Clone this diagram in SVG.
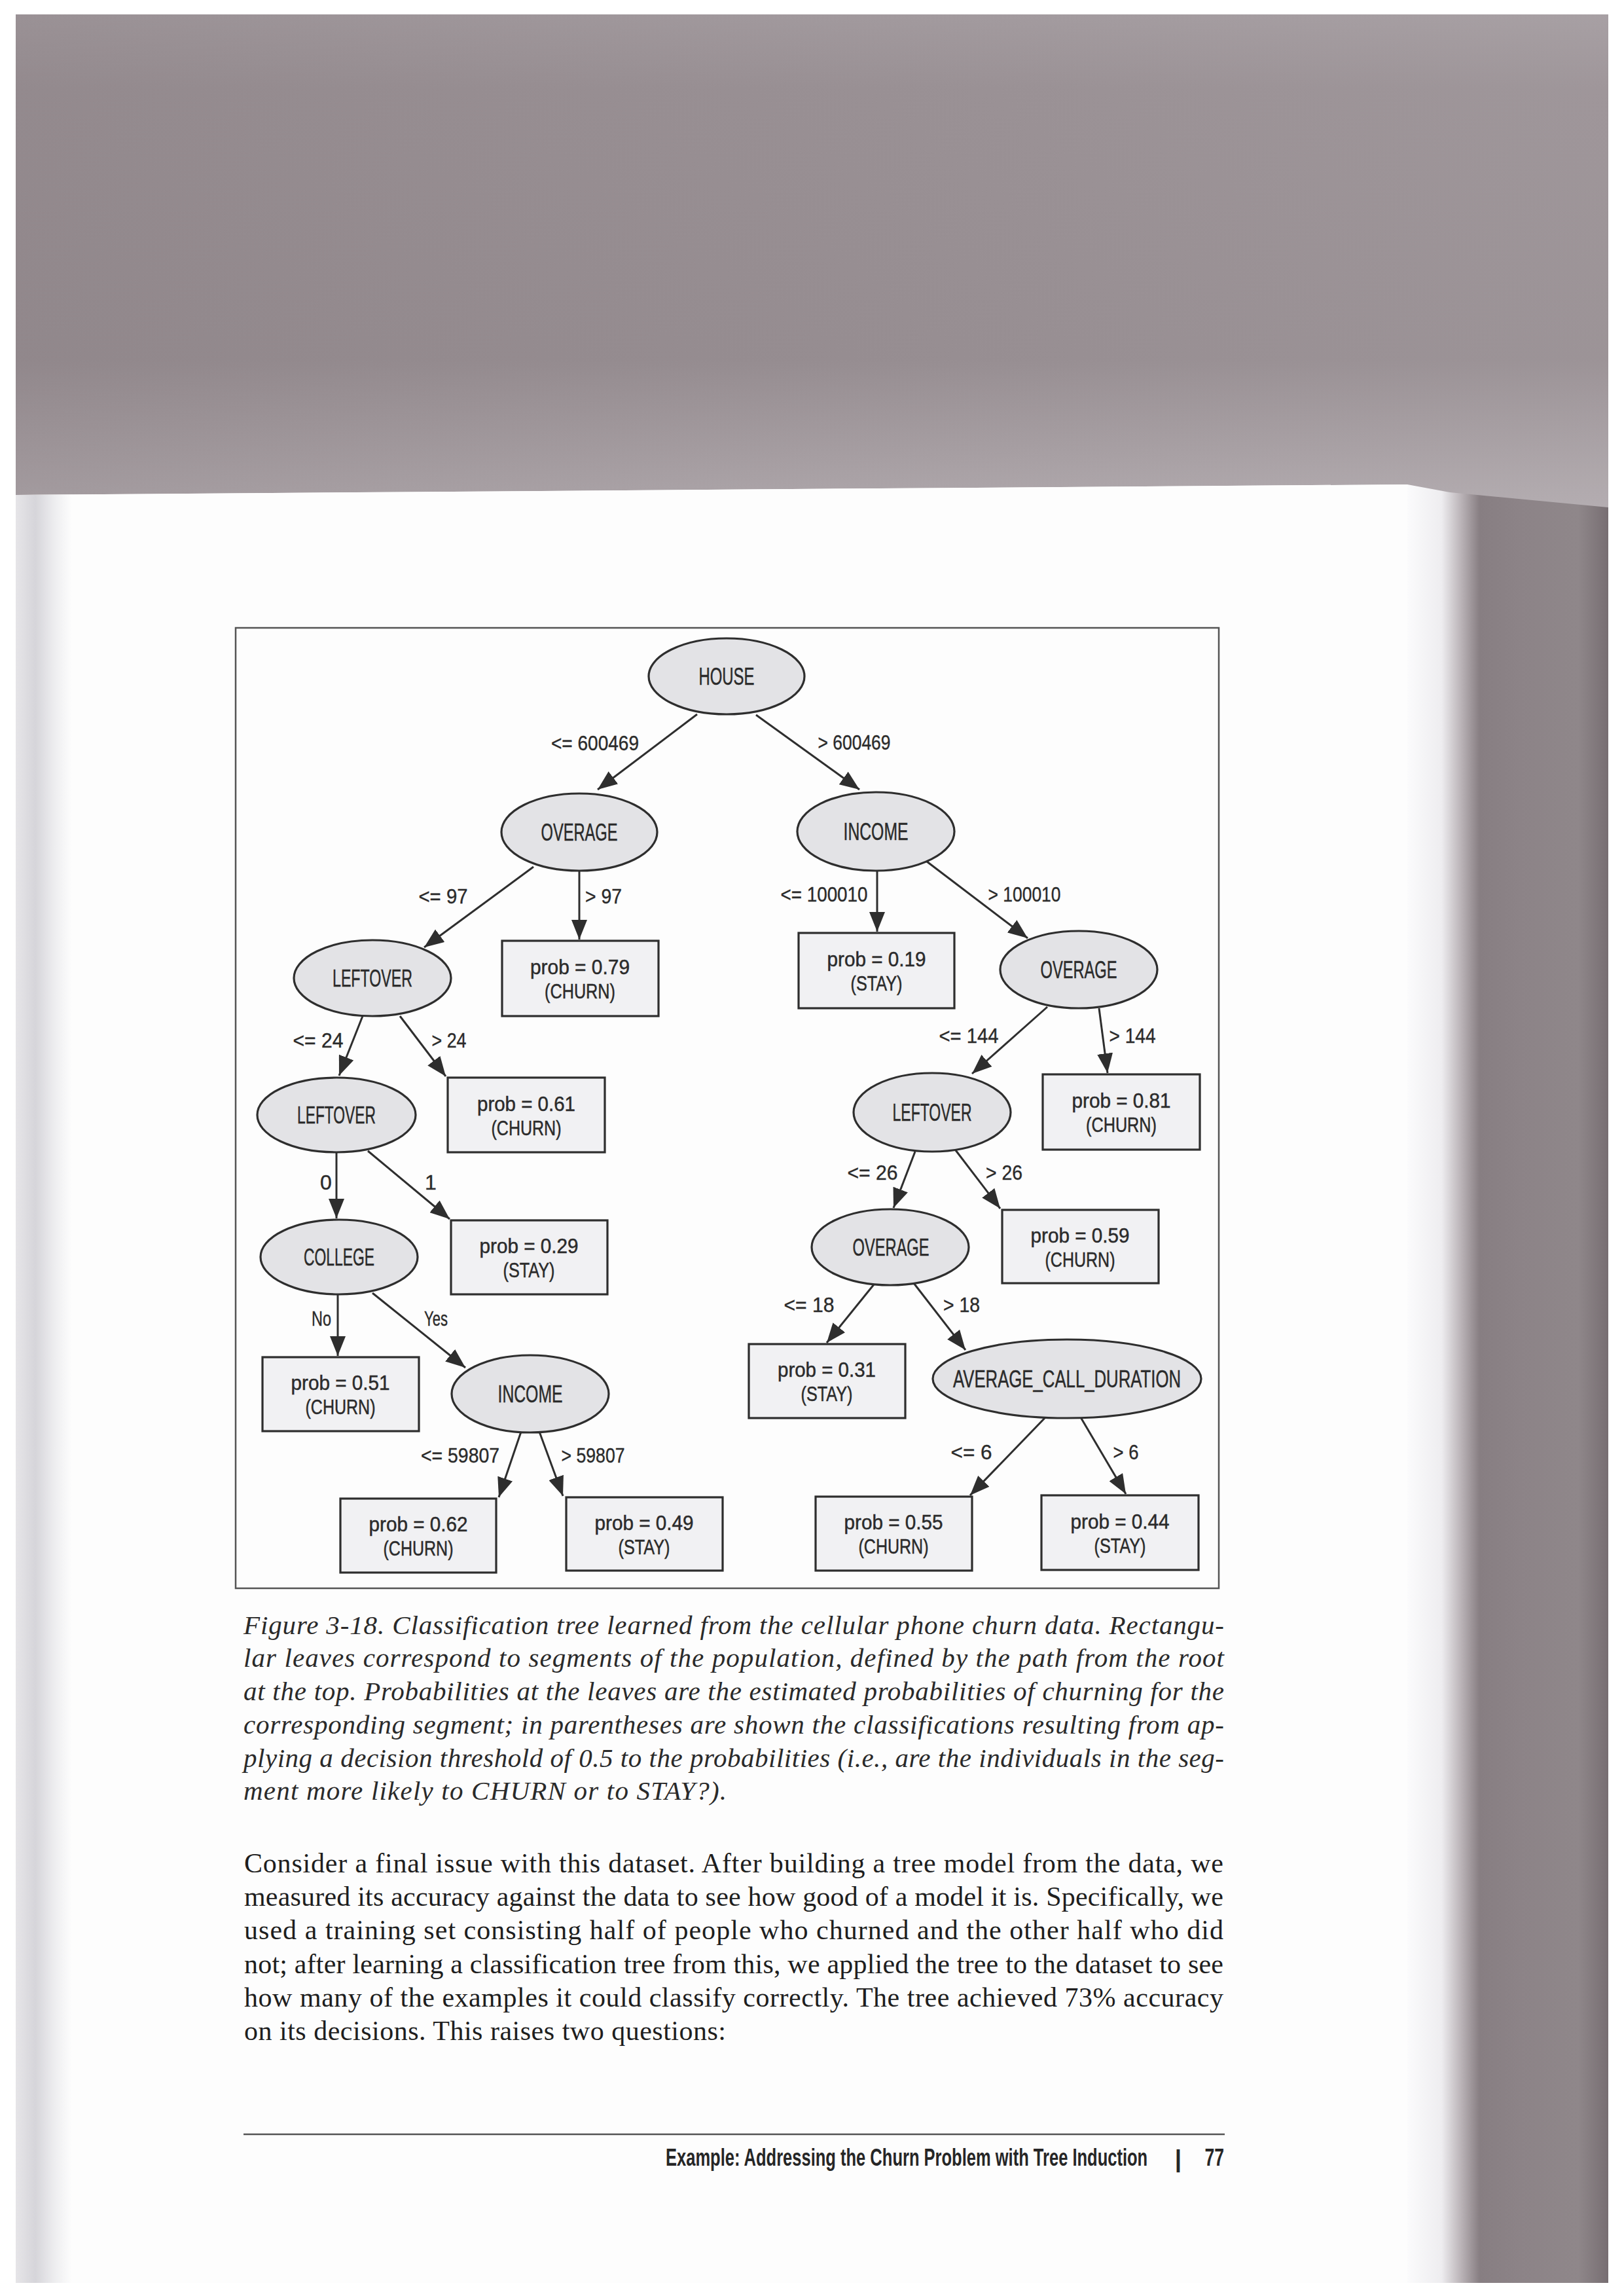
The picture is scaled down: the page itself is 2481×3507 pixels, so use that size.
<svg xmlns="http://www.w3.org/2000/svg" width="2481" height="3507" viewBox="0 0 2481 3507">
<defs>
<linearGradient id="topg" x1="0" y1="0" x2="0" y2="1">
<stop offset="0" stop-color="#a39b9f"/>
<stop offset="0.15" stop-color="#9a9195"/>
<stop offset="0.7" stop-color="#978e92"/>
<stop offset="0.9" stop-color="#a8a0a4"/>
<stop offset="1" stop-color="#b0a9ad"/>
</linearGradient>
<linearGradient id="toph" x1="0" y1="0" x2="1" y2="0">
<stop offset="0" stop-color="#7f7478" stop-opacity="0.25"/>
<stop offset="0.5" stop-color="#7f7478" stop-opacity="0.05"/>
<stop offset="1" stop-color="#ffffff" stop-opacity="0.05"/>
</linearGradient>
<linearGradient id="rightg" x1="2150" y1="0" x2="2457" y2="0" gradientUnits="userSpaceOnUse">
<stop offset="0" stop-color="#fbfbfc"/>
<stop offset="0.17" stop-color="#eeedf0"/>
<stop offset="0.27" stop-color="#b9b2b6"/>
<stop offset="0.36" stop-color="#877e82"/>
<stop offset="0.55" stop-color="#8c8387"/>
<stop offset="0.85" stop-color="#8f878a"/>
<stop offset="1" stop-color="#776e72"/>
</linearGradient>
<linearGradient id="leftg" x1="24" y1="0" x2="110" y2="0" gradientUnits="userSpaceOnUse">
<stop offset="0" stop-color="#e6e5e8"/>
<stop offset="0.35" stop-color="#d6d5da"/>
<stop offset="0.7" stop-color="#eeeef0"/>
<stop offset="1" stop-color="#fdfdfd"/>
</linearGradient>
<marker id="ah" markerWidth="30" markerHeight="24" refX="30" refY="12" orient="auto" markerUnits="userSpaceOnUse">
<path d="M0,0 L30,12 L0,24 z" fill="#2e2e2e"/>
</marker>
<style>
.dec ellipse{fill:#e3e3e6;stroke:#2e2e2e;stroke-width:3.2}
.leaf rect{fill:#f1f1f3;stroke:#2e2e2e;stroke-width:3.2}
.nl{font-family:"Liberation Sans",Arial,sans-serif;font-size:36px;fill:#2b2b2b;stroke:#2b2b2b;stroke-width:0.5;text-anchor:middle}
.ll{font-family:"Liberation Sans",Arial,sans-serif;font-size:32px;fill:#2b2b2b;stroke:#2b2b2b;stroke-width:0.5;text-anchor:middle}
.el{font-family:"Liberation Sans",Arial,sans-serif;font-size:32px;fill:#2b2b2b;stroke:#2b2b2b;stroke-width:0.4;text-anchor:middle}
#edges line{stroke:#2e2e2e;stroke-width:3;marker-end:url(#ah)}
.cap{font-family:"Liberation Serif","Times New Roman",serif;font-style:italic;font-size:41px;fill:#2a2a2a}
.body{font-family:"Liberation Serif","Times New Roman",serif;font-size:42px;fill:#1e1e1e}
.foot{font-family:"Liberation Sans",Arial,sans-serif;font-weight:bold;font-size:37px;fill:#262626}
</style>
</defs>

<!-- scan background -->
<rect x="0" y="0" width="2481" height="3507" fill="#ffffff"/>
<rect x="2150" y="735" width="307" height="2752" fill="url(#rightg)"/>
<polygon points="24,22 2457,22 2457,775 2215,752 2150,740 24,756" fill="url(#topg)"/>
<polygon points="24,22 2457,22 2457,775 2215,752 2150,740 24,756" fill="url(#toph)"/>
<polygon points="24,756 2150,740 2150,3487 24,3487" fill="#fdfdfd"/>
<rect x="24" y="756" width="86" height="2731" fill="url(#leftg)"/>

<!-- figure frame -->
<rect id="frame" x="360" y="959" width="1502" height="1467" fill="none" stroke="#555" stroke-width="2.5"/>

<!-- connectors -->
<g id="edges">
<line x1="1065" y1="1091" x2="913" y2="1206"/>
<line x1="1155" y1="1092" x2="1313" y2="1206"/>
<line x1="815" y1="1324" x2="648" y2="1447"/>
<line x1="885" y1="1331" x2="885" y2="1435"/>
<line x1="1340" y1="1330" x2="1340" y2="1423"/>
<line x1="1416" y1="1316" x2="1570" y2="1433"/>
<line x1="554" y1="1552" x2="518" y2="1643"/>
<line x1="611" y1="1552" x2="681" y2="1644"/>
<line x1="1600" y1="1538" x2="1485" y2="1640"/>
<line x1="1679" y1="1540" x2="1692" y2="1639"/>
<line x1="514" y1="1760" x2="514" y2="1861"/>
<line x1="562" y1="1758" x2="687" y2="1862"/>
<line x1="1398" y1="1759" x2="1365" y2="1845"/>
<line x1="1460" y1="1757" x2="1528" y2="1846"/>
<line x1="516" y1="1977" x2="516" y2="2071"/>
<line x1="569" y1="1975" x2="711" y2="2089"/>
<line x1="1335" y1="1962" x2="1263" y2="2051"/>
<line x1="1396" y1="1960" x2="1475" y2="2062"/>
<line x1="796" y1="2187" x2="762" y2="2287"/>
<line x1="824" y1="2187" x2="860" y2="2285"/>
<line x1="1597" y1="2165" x2="1482" y2="2284"/>
<line x1="1651" y1="2165" x2="1720" y2="2282"/>
</g>

<!-- edge labels -->
<g id="edge-labels">
<text class="el" x="909" y="1146" textLength="134" lengthAdjust="spacingAndGlyphs">&lt;= 600469</text>
<text class="el" x="1305" y="1145" textLength="111" lengthAdjust="spacingAndGlyphs">&gt; 600469</text>
<text class="el" x="677" y="1380" textLength="75" lengthAdjust="spacingAndGlyphs">&lt;= 97</text>
<text class="el" x="922" y="1380" textLength="56" lengthAdjust="spacingAndGlyphs">&gt; 97</text>
<text class="el" x="1259" y="1377" textLength="133" lengthAdjust="spacingAndGlyphs">&lt;= 100010</text>
<text class="el" x="1565" y="1377" textLength="111" lengthAdjust="spacingAndGlyphs">&gt; 100010</text>
<text class="el" x="486" y="1600" textLength="77" lengthAdjust="spacingAndGlyphs">&lt;= 24</text>
<text class="el" x="686" y="1600" textLength="53" lengthAdjust="spacingAndGlyphs">&gt; 24</text>
<text class="el" x="1480" y="1593" textLength="91" lengthAdjust="spacingAndGlyphs">&lt;= 144</text>
<text class="el" x="1730" y="1593" textLength="71" lengthAdjust="spacingAndGlyphs">&gt; 144</text>
<text class="el" x="498" y="1817">0</text>
<text class="el" x="658" y="1817">1</text>
<text class="el" x="1333" y="1802" textLength="77" lengthAdjust="spacingAndGlyphs">&lt;= 26</text>
<text class="el" x="1534" y="1802" textLength="56" lengthAdjust="spacingAndGlyphs">&gt; 26</text>
<text class="el" x="491" y="2025" textLength="30" lengthAdjust="spacingAndGlyphs">No</text>
<text class="el" x="666" y="2025" textLength="36" lengthAdjust="spacingAndGlyphs">Yes</text>
<text class="el" x="1236" y="2004" textLength="77" lengthAdjust="spacingAndGlyphs">&lt;= 18</text>
<text class="el" x="1469" y="2004" textLength="56" lengthAdjust="spacingAndGlyphs">&gt; 18</text>
<text class="el" x="703" y="2234" textLength="120" lengthAdjust="spacingAndGlyphs">&lt;= 59807</text>
<text class="el" x="906" y="2234" textLength="97" lengthAdjust="spacingAndGlyphs">&gt; 59807</text>
<text class="el" x="1484" y="2229" textLength="63" lengthAdjust="spacingAndGlyphs">&lt;= 6</text>
<text class="el" x="1720" y="2229" textLength="39" lengthAdjust="spacingAndGlyphs">&gt; 6</text>
</g>

<!-- decision nodes -->
<g id="n-house" class="dec"><ellipse cx="1110" cy="1033" rx="119" ry="58"/><text class="nl" x="1110" y="1046" textLength="85" lengthAdjust="spacingAndGlyphs">HOUSE</text></g>
<g id="n-overage-1" class="dec"><ellipse cx="885" cy="1271" rx="119" ry="59"/><text class="nl" x="885" y="1284" textLength="117" lengthAdjust="spacingAndGlyphs">OVERAGE</text></g>
<g id="n-income-1" class="dec"><ellipse cx="1338" cy="1270" rx="120" ry="60"/><text class="nl" x="1338" y="1283" textLength="99" lengthAdjust="spacingAndGlyphs">INCOME</text></g>
<g id="n-leftover-1" class="dec"><ellipse cx="569" cy="1494" rx="120" ry="58"/><text class="nl" x="569" y="1507" textLength="122" lengthAdjust="spacingAndGlyphs">LEFTOVER</text></g>
<g id="n-overage-2" class="dec"><ellipse cx="1648" cy="1481" rx="120" ry="59"/><text class="nl" x="1648" y="1494" textLength="117" lengthAdjust="spacingAndGlyphs">OVERAGE</text></g>
<g id="n-leftover-2" class="dec"><ellipse cx="514" cy="1703" rx="121" ry="57"/><text class="nl" x="514" y="1716" textLength="120" lengthAdjust="spacingAndGlyphs">LEFTOVER</text></g>
<g id="n-leftover-3" class="dec"><ellipse cx="1424" cy="1699" rx="120" ry="60"/><text class="nl" x="1424" y="1712" textLength="121" lengthAdjust="spacingAndGlyphs">LEFTOVER</text></g>
<g id="n-college" class="dec"><ellipse cx="518" cy="1920" rx="120" ry="57"/><text class="nl" x="518" y="1933" textLength="108" lengthAdjust="spacingAndGlyphs">COLLEGE</text></g>
<g id="n-overage-3" class="dec"><ellipse cx="1360" cy="1905" rx="120" ry="58"/><text class="nl" x="1361" y="1918" textLength="117" lengthAdjust="spacingAndGlyphs">OVERAGE</text></g>
<g id="n-income-2" class="dec"><ellipse cx="810" cy="2129" rx="120" ry="59"/><text class="nl" x="810" y="2142" textLength="99" lengthAdjust="spacingAndGlyphs">INCOME</text></g>
<g id="n-acd" class="dec"><ellipse cx="1630" cy="2106" rx="205" ry="60"/><text class="nl" x="1630" y="2119" textLength="348" lengthAdjust="spacingAndGlyphs">AVERAGE_CALL_DURATION</text></g>

<!-- leaf nodes -->
<g id="leaf-079" class="leaf"><rect x="767" y="1437" width="239" height="115"/><text class="ll" x="886" y="1488" textLength="152" lengthAdjust="spacingAndGlyphs">prob = 0.79</text><text class="ll" x="886" y="1525" textLength="108" lengthAdjust="spacingAndGlyphs">(CHURN)</text></g>
<g id="leaf-019" class="leaf"><rect x="1220" y="1425" width="238" height="115"/><text class="ll" x="1339" y="1476" textLength="151" lengthAdjust="spacingAndGlyphs">prob = 0.19</text><text class="ll" x="1339" y="1513" textLength="79" lengthAdjust="spacingAndGlyphs">(STAY)</text></g>
<g id="leaf-081" class="leaf"><rect x="1593" y="1641" width="240" height="115"/><text class="ll" x="1713" y="1692" textLength="151" lengthAdjust="spacingAndGlyphs">prob = 0.81</text><text class="ll" x="1713" y="1729" textLength="108" lengthAdjust="spacingAndGlyphs">(CHURN)</text></g>
<g id="leaf-061" class="leaf"><rect x="684" y="1646" width="240" height="114"/><text class="ll" x="804" y="1697" textLength="150" lengthAdjust="spacingAndGlyphs">prob = 0.61</text><text class="ll" x="804" y="1734" textLength="107" lengthAdjust="spacingAndGlyphs">(CHURN)</text></g>
<g id="leaf-029" class="leaf"><rect x="689" y="1864" width="239" height="113"/><text class="ll" x="808" y="1914" textLength="151" lengthAdjust="spacingAndGlyphs">prob = 0.29</text><text class="ll" x="808" y="1951" textLength="79" lengthAdjust="spacingAndGlyphs">(STAY)</text></g>
<g id="leaf-059" class="leaf"><rect x="1531" y="1848" width="239" height="112"/><text class="ll" x="1650" y="1898" textLength="151" lengthAdjust="spacingAndGlyphs">prob = 0.59</text><text class="ll" x="1650" y="1935" textLength="107" lengthAdjust="spacingAndGlyphs">(CHURN)</text></g>
<g id="leaf-051" class="leaf"><rect x="401" y="2073" width="239" height="113"/><text class="ll" x="520" y="2123" textLength="151" lengthAdjust="spacingAndGlyphs">prob = 0.51</text><text class="ll" x="520" y="2160" textLength="107" lengthAdjust="spacingAndGlyphs">(CHURN)</text></g>
<g id="leaf-031" class="leaf"><rect x="1144" y="2053" width="239" height="113"/><text class="ll" x="1263" y="2103" textLength="150" lengthAdjust="spacingAndGlyphs">prob = 0.31</text><text class="ll" x="1263" y="2140" textLength="79" lengthAdjust="spacingAndGlyphs">(STAY)</text></g>
<g id="leaf-062" class="leaf"><rect x="520" y="2289" width="238" height="113"/><text class="ll" x="639" y="2339" textLength="151" lengthAdjust="spacingAndGlyphs">prob = 0.62</text><text class="ll" x="639" y="2376" textLength="107" lengthAdjust="spacingAndGlyphs">(CHURN)</text></g>
<g id="leaf-049" class="leaf"><rect x="865" y="2287" width="239" height="112"/><text class="ll" x="984" y="2337" textLength="151" lengthAdjust="spacingAndGlyphs">prob = 0.49</text><text class="ll" x="984" y="2374" textLength="79" lengthAdjust="spacingAndGlyphs">(STAY)</text></g>
<g id="leaf-055" class="leaf"><rect x="1246" y="2286" width="239" height="113"/><text class="ll" x="1365" y="2336" textLength="151" lengthAdjust="spacingAndGlyphs">prob = 0.55</text><text class="ll" x="1365" y="2373" textLength="107" lengthAdjust="spacingAndGlyphs">(CHURN)</text></g>
<g id="leaf-044" class="leaf"><rect x="1591" y="2284" width="240" height="114"/><text class="ll" x="1711" y="2335" textLength="151" lengthAdjust="spacingAndGlyphs">prob = 0.44</text><text class="ll" x="1711" y="2372" textLength="79" lengthAdjust="spacingAndGlyphs">(STAY)</text></g>

<!-- caption -->
<g id="caption">
<text class="cap" x="372" y="2496" textLength="1498" lengthAdjust="spacing">Figure 3-18. Classification tree learned from the cellular phone churn data. Rectangu-</text>
<text class="cap" x="372" y="2546" textLength="1498" lengthAdjust="spacing">lar leaves correspond to segments of the population, defined by the path from the root</text>
<text class="cap" x="372" y="2597" textLength="1498" lengthAdjust="spacing">at the top. Probabilities at the leaves are the estimated probabilities of churning for the</text>
<text class="cap" x="372" y="2648" textLength="1498" lengthAdjust="spacing">corresponding segment; in parentheses are shown the classifications resulting from ap-</text>
<text class="cap" x="372" y="2699" textLength="1498" lengthAdjust="spacing">plying a decision threshold of 0.5 to the probabilities (i.e., are the individuals in the seg-</text>
<text class="cap" x="372" y="2749" textLength="738" lengthAdjust="spacing">ment more likely to CHURN or to STAY?).</text>
</g>

<!-- body paragraph -->
<g id="body">
<text class="body" x="373" y="2860" textLength="1496" lengthAdjust="spacing">Consider a final issue with this dataset. After building a tree model from the data, we</text>
<text class="body" x="373" y="2911" textLength="1496" lengthAdjust="spacing">measured its accuracy against the data to see how good of a model it is. Specifically, we</text>
<text class="body" x="373" y="2962" textLength="1496" lengthAdjust="spacing">used a training set consisting half of people who churned and the other half who did</text>
<text class="body" x="373" y="3014" textLength="1496" lengthAdjust="spacing">not; after learning a classification tree from this, we applied the tree to the dataset to see</text>
<text class="body" x="373" y="3065" textLength="1496" lengthAdjust="spacing">how many of the examples it could classify correctly. The tree achieved 73% accuracy</text>
<text class="body" x="373" y="3116" textLength="736" lengthAdjust="spacing">on its decisions. This raises two questions:</text>
</g>

<!-- footer -->
<g id="footer">
<line x1="372" y1="3260" x2="1871" y2="3260" stroke="#555" stroke-width="2.5"/>
<text class="foot" transform="translate(1017,3308) scale(0.69,1)">Example: Addressing the Churn Problem with Tree Induction</text>
<text class="foot" x="1800" y="3310" text-anchor="middle" font-weight="normal" font-size="38">|</text>
<text class="foot" transform="translate(1870,3308) scale(0.72,1)" text-anchor="end">77</text>
</g>
</svg>
